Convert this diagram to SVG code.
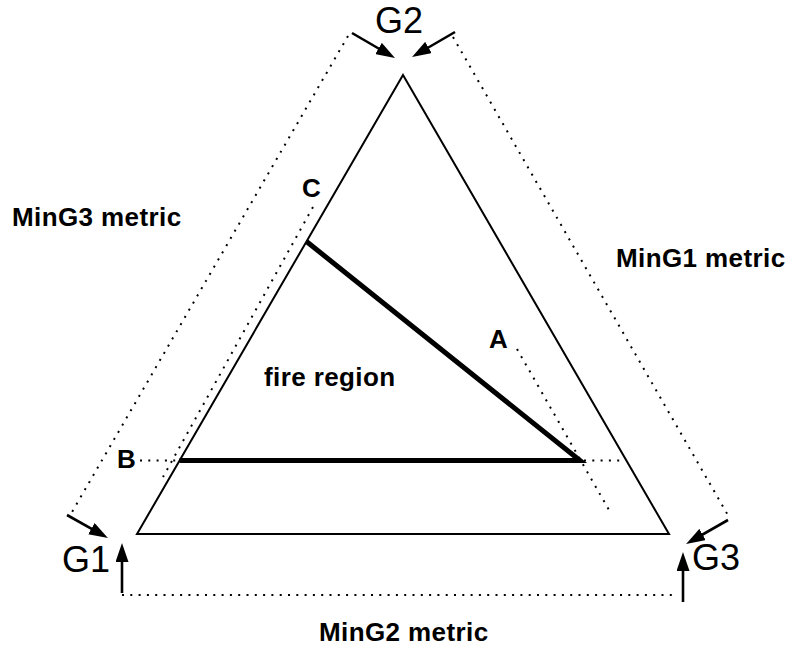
<svg xmlns="http://www.w3.org/2000/svg" width="786" height="647" viewBox="0 0 786 647">
<style>
.big{font-family:"Liberation Sans",Arial,sans-serif;font-size:36px;fill:#000}
.lbl{font-family:"Liberation Sans",Arial,sans-serif;font-size:26px;font-weight:bold;fill:#000;letter-spacing:0.4px}
.dot{stroke:#000;stroke-width:2;stroke-dasharray:2 6.3;fill:none}
.arr{stroke:#000;stroke-width:2.6;fill:none;marker-end:url(#ah)}
</style>
<defs>
<marker id="ah" viewBox="0 0 19 13" refX="10" refY="6.5" markerWidth="19" markerHeight="13" markerUnits="userSpaceOnUse" orient="auto">
<path d="M0,0 L19,6.5 L0,13 z" fill="#000"/>
</marker>
</defs>
<rect width="786" height="647" fill="#fff"/>
<g id="triangle">
<polygon points="403,75 137,534 669,534" fill="none" stroke="#000" stroke-width="2"/>
</g>
<g id="fire-boundary">
<polyline points="306.5,241.5 580,460.5 179.5,460.5" fill="none" stroke="#000" stroke-width="5" stroke-linejoin="miter"/>
</g>
<g id="connectors">
<line class="dot" x1="348" y1="36" x2="72" y2="512"/>
<line class="dot" x1="453" y1="37" x2="729" y2="517"/>
<line class="dot" x1="122" y1="595" x2="676" y2="595"/>
<line class="dot" x1="313" y1="207" x2="163" y2="477"/>
<line class="dot" x1="140" y1="460.5" x2="176" y2="460.5"/>
<line class="dot" x1="517" y1="349" x2="609" y2="510"/>
<line class="dot" x1="584" y1="460.5" x2="624" y2="460.5"/>
<line class="arr" x1="352" y1="33" x2="387.2" y2="53.5"/>
<line class="arr" x1="455" y1="32" x2="419.8" y2="52.5"/>
<line class="arr" x1="67" y1="515" x2="100.1" y2="533.6"/>
<line class="arr" x1="728" y1="520" x2="693.9" y2="539.5"/>
<line class="arr" x1="122" y1="593" x2="122" y2="552"/>
<line class="arr" x1="683" y1="602" x2="683" y2="561"/>
</g>
<g id="G2"><text class="big" x="399" y="33" text-anchor="middle">G2</text></g>
<g id="G1"><text class="big" x="62" y="572">G1</text></g>
<g id="G3"><text class="big" x="692" y="570">G3</text></g>
<g id="MinG3"><text class="lbl" x="12" y="226">MinG3 metric</text></g>
<g id="MinG1"><text class="lbl" x="616" y="267">MinG1 metric</text></g>
<g id="MinG2"><text class="lbl" x="319" y="641">MinG2 metric</text></g>
<g id="fire"><text class="lbl" x="264" y="386">fire region</text></g>
<g id="A"><text class="lbl" x="489" y="348">A</text></g>
<g id="B"><text class="lbl" x="117" y="468">B</text></g>
<g id="C"><text class="lbl" x="302" y="197">C</text></g>
</svg>
